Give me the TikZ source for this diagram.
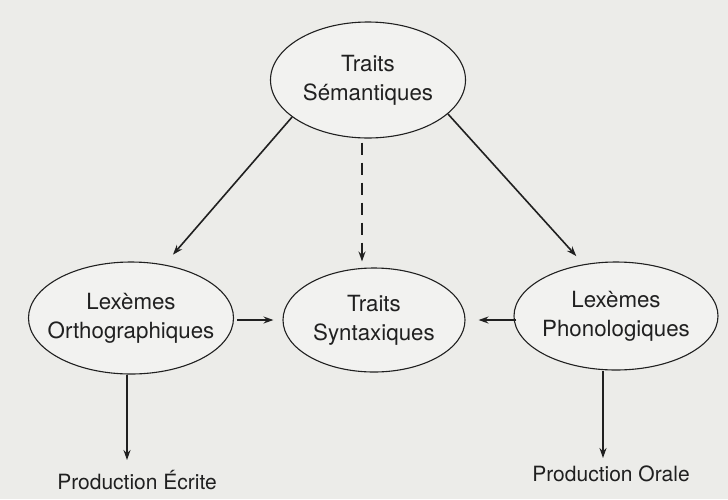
\documentclass[tikz,border=0pt]{standalone}
\usepackage{fontspec}
\setmainfont{TeX Gyre Heros}
\usetikzlibrary{shapes.geometric,arrows.meta}
\definecolor{bgc}{RGB}{236,236,233}
\definecolor{inkc}{RGB}{32,32,32}
\definecolor{fillc}{RGB}{242,242,240}
\begin{document}
\begin{tikzpicture}[x=1pt,y=-1pt,
  oval/.style={ellipse,draw=inkc,line width=1.1pt,fill=fillc,inner sep=0pt},
  otext/.style={align=center,text=inkc,font=\fontsize{22.3}{29}\selectfont},
  ptext/.style={text=inkc,font=\fontsize{21}{24}\selectfont,inner sep=0pt},
  conn/.style={draw=inkc,line width=1.6pt,-{Stealth[length=10pt,width=7pt]}}
]
\fill[bgc] (0,0) rectangle (728,499);
\useasboundingbox (0,0) rectangle (728,499);

\node[oval,minimum width=195pt,minimum height=116pt,
  label={[otext]center:Traits\\Sémantiques}] (sem) at (368,80) {};
\node[oval,minimum width=205pt,minimum height=112pt,
  label={[otext]center:Lexèmes\\Orthographiques}] (orth) at (131,318) {};
\node[oval,minimum width=182pt,minimum height=104pt,
  label={[otext]center:Traits\\Syntaxiques}] (syn) at (374,320) {};
\node[oval,minimum width=204pt,minimum height=108pt,
  label={[otext]center:Lexèmes\\Phonologiques}] (phon) at (616,316) {};

\node[ptext,anchor=north] (ecr) at (137,470) {Production Écrite};
\node[ptext,anchor=north] (orl) at (611,466) {Production Orale};

\draw[conn,shorten >=13pt] (sem.206) -- (orth.58);
\draw[conn,shorten >=11pt] (sem.337) -- (phon.122);
\draw[conn,dashed,dash pattern=on 12pt off 8pt,shorten <=4pt,shorten >=6pt]
  ([xshift=-6pt]sem.south) -- ([xshift=-6pt]sem.south |- syn.north);
\draw[conn,shorten <=3pt,shorten >=9pt] (orth.east |- syn.west) -- (syn.west);
\draw[conn,shorten <=-3pt,shorten >=13pt] (phon.west |- syn.east) -- (syn.east);
\draw[conn,shorten >=10pt] ([xshift=-4pt]orth.south) -- ([xshift=-4pt]orth.south |- ecr.north);
\draw[conn,shorten >=8pt] ([xshift=-13pt]phon.south) -- ([xshift=-13pt]phon.south |- orl.north);
\end{tikzpicture}
\end{document}
